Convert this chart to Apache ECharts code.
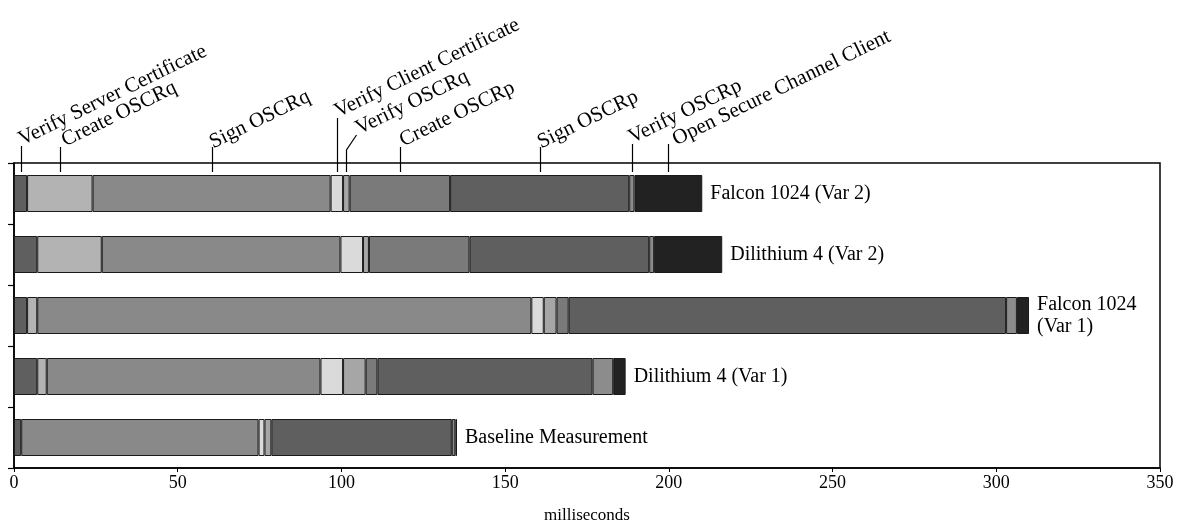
<!DOCTYPE html>
<html>
<head>
<meta charset="utf-8">
<script src="https://cdn.jsdelivr.net/npm/echarts@6/dist/echarts.min.js"></script>
<style>
  html, body { margin: 0; padding: 0; background: #ffffff; }
  #chart { width: 1189px; height: 524px; }
</style>
</head>
<body>
<div id="chart"></div>
<script>
// Handshake timing per configuration (milliseconds), top row first
const categories = ['Falcon 1024 (Var 2)', 'Dilithium 4 (Var 2)', 'Falcon 1024 (Var 1)', 'Dilithium 4 (Var 1)', 'Baseline Measurement'];
const barLabels = ['Falcon 1024 (Var 2)', 'Dilithium 4 (Var 2)', 'Falcon 1024\n(Var 1)', 'Dilithium 4 (Var 1)', 'Baseline Measurement'];
const steps = ['Verify Server Certificate', 'Create OSCRq', 'Sign OSCRq', 'Verify Client Certificate', 'Verify OSCRq', 'Create OSCRp', 'Sign OSCRp', 'Verify OSCRp', 'Open Secure Channel Client'];

const verifyServerCert  = [4.0, 7.1, 4.0, 7.1, 2.2];
const createOSCRq       = [20.0, 19.7, 3.1, 2.9, 0];
const signOSCRq         = [72.7, 72.9, 150.9, 83.6, 72.5];
const verifyClientCert  = [3.8, 6.9, 3.8, 6.9, 1.8];
const verifyOSCRq       = [2.0, 1.8, 3.9, 6.9, 2.1];
const createOSCRp       = [30.7, 30.7, 3.7, 3.6, 0];
const signOSCRp         = [54.7, 54.9, 133.6, 65.7, 55.1];
const verifyOSCRp       = [1.6, 1.5, 3.3, 6.3, 1.1];
const openSecureChannel = [20.7, 20.8, 3.7, 3.8, 0.5];

const stepValues = [verifyServerCert, createOSCRq, signOSCRq, verifyClientCert, verifyOSCRq, createOSCRp, signOSCRp, verifyOSCRp, openSecureChannel];
const stepColors = ['#5f5f5f', '#b3b3b3', '#898989', '#dadada', '#a6a6a6', '#7a7a7a', '#5f5f5f', '#8c8c8c', '#222222'];

// Callout geometry for the step labels above the top bar:
// rise = how far the leader goes above the frame, bend/kink = sideways jog at the top,
// textDx/textDy = nudge of each label's anchor from the leader's end
const calloutRise = [17, 16, 16, 45, 13, 16, 16, 19, 19];
const calloutBend = [0, 0, 0, 0, 10, 0, 0, 0, 0];
const calloutKink = [0, 0, 0, 0, 15, 0, 0, 0, 0];
const textDx = [0, 4, 0, 0, 2, 2, 0, -1, 7];
const textDy = [0, 0, 2, 0, 0, 0, 2, 0, 2];

const FONT = '"Liberation Serif", "DejaVu Serif", serif';

const series = stepValues.map((vals, i) => ({
  name: steps[i],
  type: 'bar',
  stack: 'total',
  barWidth: 37,
  data: vals.map(v => (v > 0 ? v : null)),
  itemStyle: { color: stepColors[i], borderColor: '#1a1a1a', borderWidth: 1 },
  label: i === stepValues.length - 1 ? {
    show: true,
    position: 'right',
    distance: 8,
    color: '#000',
    fontFamily: FONT,
    fontSize: 20,
    lineHeight: 22,
    align: 'left',
    formatter: p => barLabels[p.dataIndex]
  } : { show: false },
  silent: true,
  animation: false
}));

// Midpoints of each step along the top bar, where the callouts attach
const calloutData = [];
let acc = 0;
stepValues.forEach((vals, i) => {
  const v = vals[0];
  calloutData.push([acc + v / 2, 0, i]);
  acc += v;
});

series.push({
  type: 'custom',
  name: 'callouts',
  data: calloutData,
  encode: { x: 0, y: 1 },
  clip: false,
  silent: true,
  animation: false,
  z: 10,
  renderItem: (params, api) => {
    const idx = api.value(2);
    const p = api.coord([api.value(0), 0]);
    const top = params.coordSys.y;
    const x = Math.round(p[0]) + 0.5;
    const yBottom = top + 9;
    const yTop = top - calloutRise[idx];
    const pts = [[x, yBottom], [x, yTop]];
    let tx = x, ty = yTop;
    if (calloutBend[idx]) {
      tx = x + calloutBend[idx];
      ty = yTop - calloutKink[idx];
      pts.push([tx, ty]);
    }
    const angle = 26 * Math.PI / 180;
    return {
      type: 'group',
      children: [
        { type: 'polyline', shape: { points: pts }, style: { stroke: '#000', lineWidth: 1.2, fill: null } },
        {
          type: 'text',
          x: tx + 3 + textDx[idx],
          y: ty + 4 + textDy[idx],
          rotation: angle,
          style: {
            text: steps[idx],
            x: 0, y: 0,
            fill: '#000',
            font: '21px ' + FONT,
            textAlign: 'left',
            textVerticalAlign: 'bottom'
          }
        }
      ]
    };
  }
});

const chart = echarts.init(document.getElementById('chart'), null, { renderer: 'canvas' });
chart.setOption({
  animation: false,
  backgroundColor: '#ffffff',
  grid: {
    left: 14, right: 29, top: 163, bottom: 56,
    outerBoundsMode: 'none',
    containLabel: false,
    show: true, borderColor: '#000', borderWidth: 1.5, backgroundColor: 'transparent'
  },
  xAxis: {
    type: 'value',
    min: 0, max: 350, interval: 50,
    name: 'milliseconds',
    nameLocation: 'middle',
    nameGap: 39,
    nameTextStyle: { fontFamily: FONT, fontSize: 17, color: '#000' },
    axisLine: { show: true, lineStyle: { color: '#000', width: 1.5 } },
    axisTick: { show: true, length: 4, lineStyle: { color: '#000' } },
    axisLabel: { fontFamily: FONT, fontSize: 18, color: '#000', margin: 6 },
    splitLine: { show: false }
  },
  yAxis: {
    type: 'category',
    data: categories,
    inverse: true,
    axisLine: { show: true, lineStyle: { color: '#000', width: 1.5 } },
    axisTick: { show: true, length: 6, lineStyle: { color: '#000', width: 1.2 } },
    axisLabel: { show: false },
    splitLine: { show: false }
  },
  series: series
});
</script>
</body>
</html>
